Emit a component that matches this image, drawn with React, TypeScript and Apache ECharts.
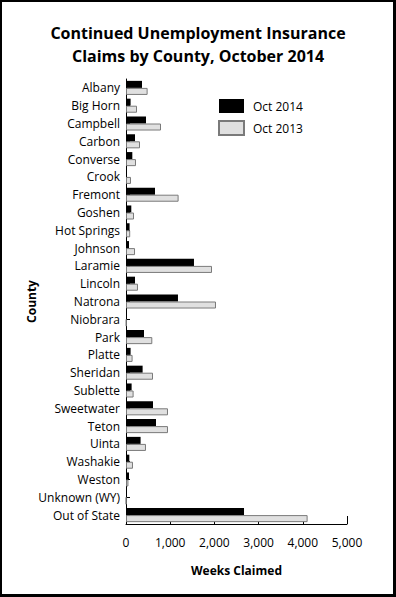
import React, { useEffect, useRef } from "react";
import * as echarts from "echarts";

const categories = [
  "Albany", "Big Horn", "Campbell", "Carbon", "Converse", "Crook", "Fremont", "Goshen",
  "Hot Springs", "Johnson", "Laramie", "Lincoln", "Natrona", "Niobrara", "Park", "Platte",
  "Sheridan", "Sublette", "Sweetwater", "Teton", "Uinta", "Washakie", "Weston",
  "Unknown (WY)", "Out of State",
];
const oct2014 = [362, 104, 452, 204, 143, 20, 656, 120, 80, 68, 1538, 204, 1176, 10, 407, 104, 376, 127, 611, 679, 330, 75, 68, 5, 2670];
const oct2013 = [489, 249, 792, 317, 226, 113, 1190, 181, 95, 204, 1946, 271, 2036, 10, 595, 149, 611, 172, 950, 950, 452, 158, 55, 5, 4109];
const seriesNames = ["Oct 2014", "Oct 2013"];
const xMin = 0;
const xMax = 5000;
const xStep = 1000;

const FONT = "'Open Sans', sans-serif";

export default function App() {
  const ref = useRef<HTMLDivElement>(null);
  useEffect(() => {
    document.body.style.margin = "0";
    const chart = echarts.init(ref.current!, null, { renderer: "svg" });
    chart.setOption({
      animation: false,
      backgroundColor: "#ffffff",
      textStyle: { fontFamily: FONT, color: "#000" },
      title: {
        text: "Continued Unemployment Insurance\nClaims by County, October 2014",
        left: "center",
        top: 16,
        textStyle: { fontFamily: FONT, fontSize: 16, fontWeight: "bold", lineHeight: 23, color: "#000" },
      },
      legend: {
        orient: "vertical",
        left: 218,
        top: 99,
        padding: 0,
        itemWidth: 25,
        itemHeight: 14,
        itemGap: 7,
        icon: "rect",
        data: seriesNames,
        textStyle: { fontFamily: FONT, fontSize: 12, color: "#000", padding: [0, 0, 0, 4] },
      },
      grid: { left: 126, right: 49, top: 79, bottom: 73 },
      xAxis: {
        type: "value",
        min: xMin,
        max: xMax,
        interval: xStep,
        name: "Weeks Claimed",
        nameLocation: "middle",
        nameGap: 40,
        nameMoveOverlap: false,
        nameTextStyle: { fontFamily: FONT, fontSize: 12, fontWeight: "bold", color: "#000" },
        axisLine: { show: true, lineStyle: { color: "#000", width: 1 } },
        axisTick: { show: true, inside: true, length: 8, lineStyle: { color: "#000" } },
        splitLine: { show: false },
        axisLabel: {
          margin: 12,
          fontFamily: FONT,
          fontSize: 12,
          color: "#000",
          formatter: (v: number) => v.toLocaleString("en-US"),
        },
      },
      yAxis: {
        type: "category",
        data: categories,
        inverse: true,
        name: "County",
        nameLocation: "middle",
        nameRotate: 90,
        nameGap: 89,
        nameMoveOverlap: false,
        nameTextStyle: { fontFamily: FONT, fontSize: 12, fontWeight: "bold", color: "#000" },
        axisLine: { show: true, lineStyle: { color: "#000", width: 1 } },
        axisTick: { show: true, inside: true, alignWithLabel: true, length: 4, lineStyle: { color: "#000" } },
        axisLabel: { margin: 6, fontFamily: FONT, fontSize: 12, color: "#000" },
      },
      series: [
        {
          name: seriesNames[0],
          type: "bar",
          data: oct2014,
          barGap: "0%",
          barCategoryGap: "21%",
          itemStyle: { color: "#000000" },
        },
        {
          name: seriesNames[1],
          type: "bar",
          data: oct2013,
          barGap: "0%",
          barCategoryGap: "21%",
          itemStyle: { color: "#e0e0e0", borderColor: "#7a7a7a", borderWidth: 1 },
        },
      ],
      graphic: [
        { type: "rect", shape: { x: 0, y: 0, width: 396, height: 2 }, style: { fill: "#000" } },
        { type: "rect", shape: { x: 0, y: 594, width: 396, height: 3 }, style: { fill: "#000" } },
        { type: "rect", shape: { x: 0, y: 0, width: 2, height: 597 }, style: { fill: "#000" } },
        { type: "rect", shape: { x: 393, y: 0, width: 3, height: 597 }, style: { fill: "#000" } },
      ],
    });
    return () => chart.dispose();
  }, []);
  return <div ref={ref} style={{ width: 396, height: 597 }} />;
}
